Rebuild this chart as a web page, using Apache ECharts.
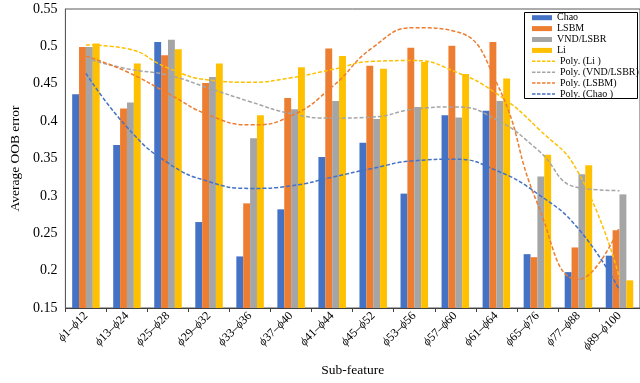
<!DOCTYPE html>
<html>
<head>
<meta charset="utf-8">
<script src="https://cdn.jsdelivr.net/npm/echarts@6/dist/echarts.min.js"></script>
<style>
  html, body { margin: 0; padding: 0; background: #fff; }
  #chart { width: 640px; height: 383px; }
</style>
</head>
<body>
<div id="chart"></div>
<script>
// Sub-feature groups on the x axis
const categories = ['ϕ1–ϕ12', 'ϕ13–ϕ24', 'ϕ25–ϕ28', 'ϕ29–ϕ32', 'ϕ33–ϕ36', 'ϕ37–ϕ40', 'ϕ41–ϕ44',
  'ϕ45–ϕ52', 'ϕ53–ϕ56', 'ϕ57–ϕ60', 'ϕ61–ϕ64', 'ϕ65–ϕ76', 'ϕ77–ϕ88', 'ϕ89–ϕ100'];

// Average OOB error per method
const chao = [0.436, 0.368, 0.506, 0.265, 0.219, 0.282, 0.352, 0.371, 0.303, 0.408, 0.414, 0.222, 0.198, 0.220];
const lsbm = [0.499, 0.417, 0.488, 0.451, 0.290, 0.431, 0.497, 0.474, 0.498, 0.501, 0.506, 0.218, 0.231, 0.254];
const vnd  = [0.499, 0.425, 0.509, 0.459, 0.377, 0.416, 0.427, 0.403, 0.419, 0.405, 0.427, 0.326, 0.329, 0.302];
const li   = [0.504, 0.477, 0.496, 0.477, 0.408, 0.472, 0.487, 0.470, 0.479, 0.463, 0.457, 0.355, 0.341, 0.187];

// Polynomial trend curves, sampled at each category
const polyLi   = [0.502, 0.497, 0.471, 0.455, 0.452, 0.458, 0.469, 0.480, 0.481, 0.466, 0.437, 0.391, 0.331, 0.190];
const polyVnd  = [0.484, 0.470, 0.4615, 0.444, 0.426, 0.410, 0.404, 0.4055, 0.416, 0.419, 0.402, 0.362, 0.311, 0.307];
const polyLsbm = [0.487, 0.466, 0.437, 0.408, 0.395, 0.407, 0.446, 0.499, 0.525, 0.520, 0.452, 0.290, 0.188, 0.258];
const polyChao = [0.464, 0.392, 0.344, 0.319, 0.310, 0.3135, 0.325, 0.337, 0.347, 0.349, 0.334, 0.303, 0.256, 0.174];

// Y-axis range
const yMin = 0.15, yMax = 0.55, yStep = 0.05;

const SERIF = "'Liberation Serif', 'Times New Roman', serif";
const COLORS = { chao: '#4472C4', lsbm: '#ED7D31', vnd: '#A5A5A5', li: '#FFC000' };

// Short-dash glyph used as the legend key of the trend curves
const DASH_ICON = 'path://M0,0h3.5v1.5h-3.5z M5,0h3.5v1.5h-3.5z M10,0h3.5v1.5h-3.5z M15,0h3.5v1.5h-3.5z M20,0h3v1.5h-3z';

function barSeries(name, data, color) {
  return {
    name, type: 'bar', data,
    barGap: 0, barCategoryGap: '33%',
    itemStyle: { color },
    z: 2
  };
}
function trendSeries(name, data, color) {
  return {
    name, type: 'line', data,
    smooth: 0.5, symbol: 'none',
    lineStyle: { color, width: 1.5, type: [4, 2] },
    itemStyle: { color },
    z: 5
  };
}

const legendText = { fontFamily: SERIF, fontSize: 10, color: '#000', lineHeight: 10 };

const chart = echarts.init(document.getElementById('chart'), null, { renderer: 'canvas' });
chart.setOption({
  animation: false,
  backgroundColor: '#fff',
  textStyle: { fontFamily: SERIF },
  grid: {
    left: 55, top: 9, bottom: 75, width: 589,
    show: true, borderColor: '#595959', borderWidth: 1, backgroundColor: 'transparent'
  },
  graphic: [{
    type: 'rect', z: 50,
    shape: { x: 524.5, y: 12.5, width: 113, height: 86 },
    style: { fill: '#fff', stroke: '#000', lineWidth: 1 }
  }],
  legend: [{
    z: 60, orient: 'vertical', left: 532, top: 12.7, padding: 0,
    itemWidth: 20, itemHeight: 5, itemGap: 0.9,
    icon: 'rect',
    textStyle: legendText,
    data: ['Chao', 'LSBM', 'VND/LSBR', 'Li']
  }, {
    z: 60, orient: 'vertical', left: 532, top: 56.3, padding: 0,
    itemWidth: 23, itemHeight: 1.5, itemGap: 0.9,
    icon: DASH_ICON,
    textStyle: legendText,
    data: ['Poly. (Li )', 'Poly. (VND/LSBR)', 'Poly. (LSBM)', 'Poly. (Chao )']
  }],
  xAxis: {
    type: 'category', data: categories,
    name: 'Sub-feature', nameLocation: 'middle', nameGap: 55,
    nameTextStyle: { fontFamily: SERIF, fontSize: 13.5, color: '#000' },
    axisLine: { lineStyle: { color: '#404040', width: 1 } },
    axisTick: { show: true, length: 4, lineStyle: { color: '#404040' } },
    axisLabel: {
      rotate: 45, margin: 6, interval: 0,
      fontFamily: SERIF, fontSize: 12, color: '#000',
      formatter: v => v.split('ϕ').map((s, i) => (i === 0 ? s : '{p|ϕ}' + s)).join(''),
      rich: { p: { fontFamily: SERIF, fontStyle: 'italic', fontSize: 12, color: '#000' } }
    }
  },
  yAxis: {
    type: 'value', min: yMin, max: yMax, interval: yStep,
    name: 'Average OOB error', nameLocation: 'middle', nameGap: 40,
    nameTextStyle: { fontFamily: SERIF, fontSize: 13.5, color: '#000' },
    axisLine: { show: true, lineStyle: { color: '#595959' } },
    axisTick: { show: false },
    splitLine: { show: false },
    axisLabel: { fontFamily: SERIF, fontSize: 14, color: '#000', margin: 8 }
  },
  series: [
    barSeries('Chao', chao, COLORS.chao),
    barSeries('LSBM', lsbm, COLORS.lsbm),
    barSeries('VND/LSBR', vnd, COLORS.vnd),
    barSeries('Li', li, COLORS.li),
    trendSeries('Poly. (Li )', polyLi, COLORS.li),
    trendSeries('Poly. (VND/LSBR)', polyVnd, COLORS.vnd),
    trendSeries('Poly. (LSBM)', polyLsbm, COLORS.lsbm),
    trendSeries('Poly. (Chao )', polyChao, COLORS.chao)
  ]
});
</script>
</body>
</html>
